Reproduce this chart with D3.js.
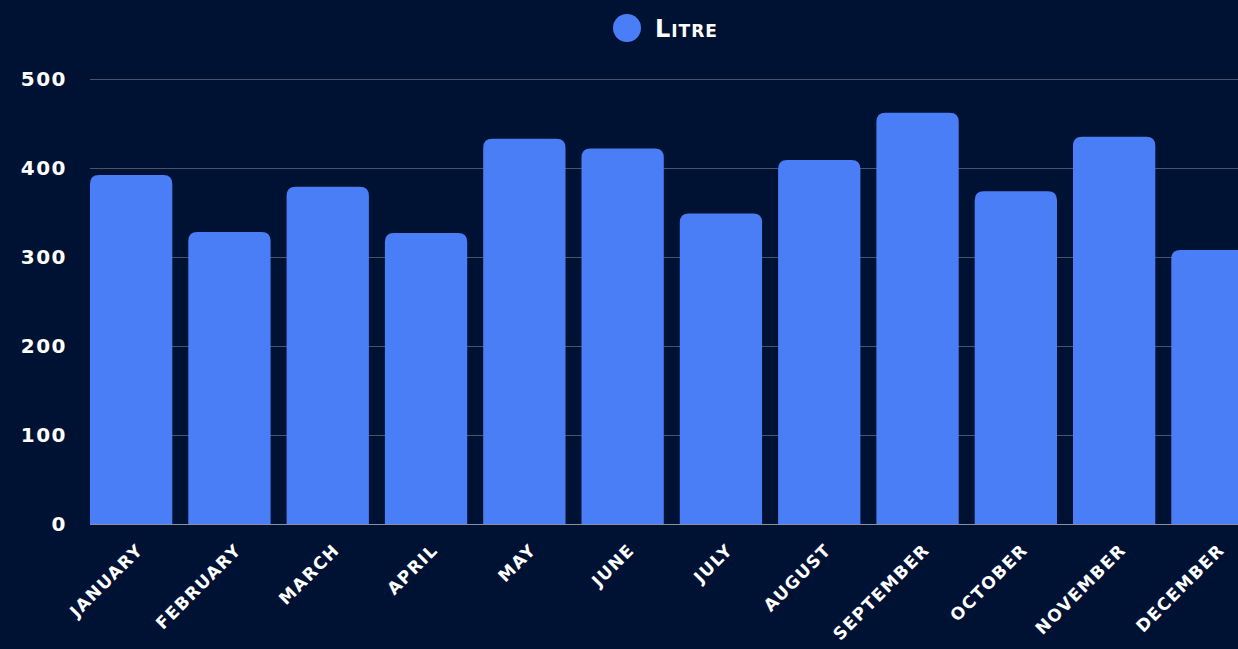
<!DOCTYPE html>
<html><head><meta charset="utf-8">
<script src="https://cdn.jsdelivr.net/npm/d3@7"></script>
<style>
html,body{margin:0;padding:0;background:#001233;overflow:hidden;}
svg{display:block;}
text{font-family:"DejaVu Sans",Lato,sans-serif;fill:#fff;}
</style></head>
<body>
<svg id="c" width="1238" height="649"></svg>
<script>
const categories = ["January","February","March","April","May","June","July","August","September","October","November","December"];
const litre = [392,328,379,327,433,422,349,409,462,374,435,308];
const yTicks = [0,100,200,300,400,500];
const seriesName = "Litre";

const W=1238,H=649;
const svg=d3.select("#c");
svg.append("rect").attr("width",W).attr("height",H).attr("fill","#001233");

const left=90, step=98.3, gap=16;
const x=d3.scaleBand().domain(categories).range([left,left+12*step-gap]).paddingInner(gap/step).paddingOuter(0);
const y=d3.scaleLinear().domain([0,500]).range([524,79]);

// grid
svg.append("g").selectAll("line").data(yTicks).join("line")
  .attr("x1",left).attr("x2",W).attr("y1",d=>y(d)+0.5).attr("y2",d=>y(d)+0.5)
  .attr("stroke",d=>d===0?"#8a8f9c":"#4a5468").attr("stroke-width",1);

// y labels
svg.append("g").selectAll("text").data(yTicks).join("text")
  .attr("x",67).attr("y",d=>y(d)+7).attr("text-anchor","end")
  .attr("font-size",20).attr("font-weight",700).attr("letter-spacing",1.5)
  .text(d=>d);

// bars with rounded top
const r=9;
function barPath(x0,w,yt,yb){
  return `M${x0},${yb}V${yt+r}Q${x0},${yt} ${x0+r},${yt}H${x0+w-r}Q${x0+w},${yt} ${x0+w},${yt+r}V${yb}Z`;
}
svg.append("g").selectAll("path").data(categories).join("path")
  .attr("d",(c,i)=>barPath(x(c),x.bandwidth(),y(litre[i]),y(0)))
  .attr("fill","#4a7ef7");

// x labels
svg.append("g").selectAll("text").data(categories).join("text")
  .attr("transform",c=>`translate(${x(c)+x.bandwidth()/2+13},${551}) rotate(-45)`)
  .attr("text-anchor","end")
  .attr("font-size",17).attr("font-weight",700).attr("letter-spacing",1.5)
  .text(c=>c.toUpperCase());

// legend
svg.append("circle").attr("cx",627).attr("cy",28).attr("r",14).attr("fill","#4a7ef7");
svg.append("text").attr("x",655).attr("y",37).attr("font-size",24).attr("font-weight",700)
  .attr("font-variant","small-caps").attr("letter-spacing",1).text(seriesName);
</script>
</body></html>
